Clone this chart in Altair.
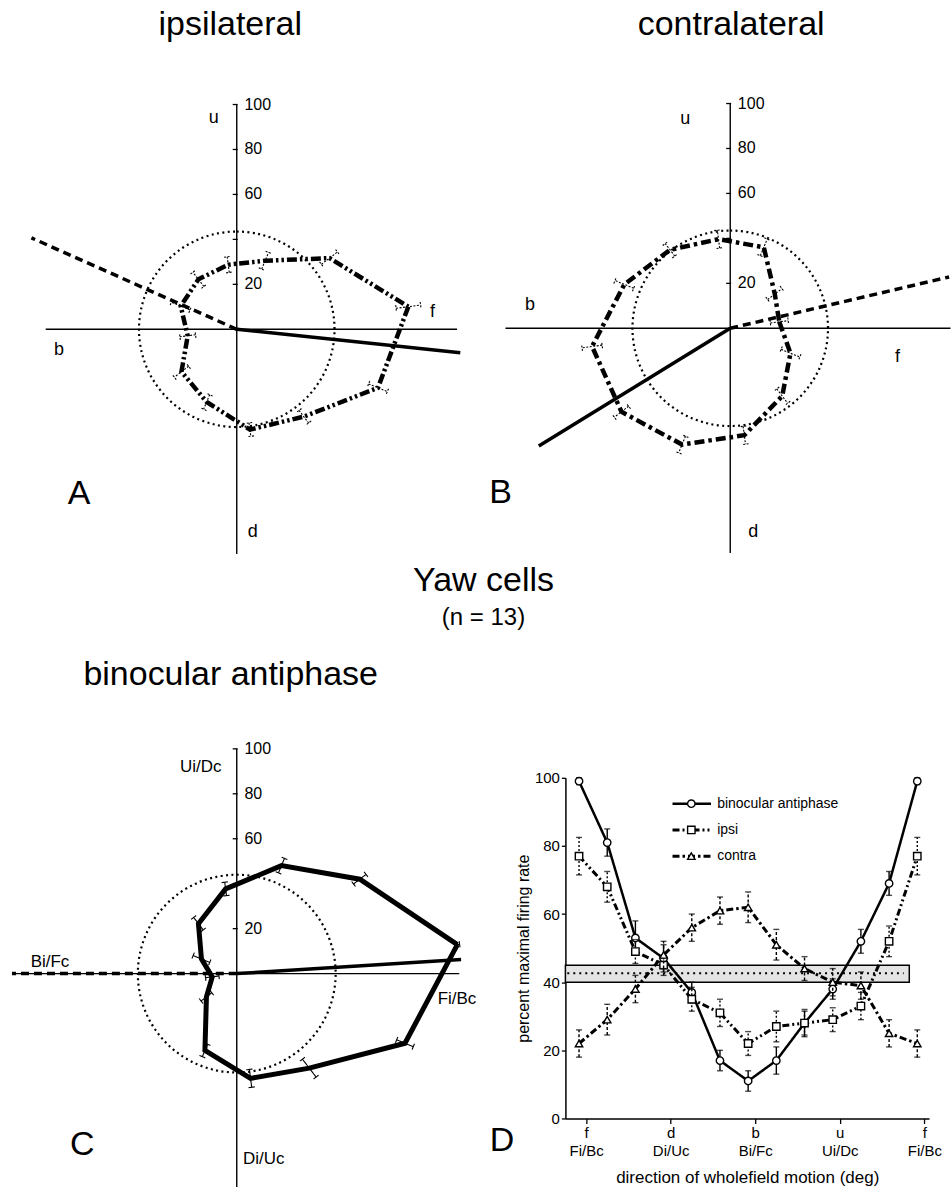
import json
import numpy as np
import pandas as pd
import altair as alt

FONT = "Liberation Sans"

# ---------------------------------------------------------------------------
# Data: responses of yaw cells to 12 directions of wholefield motion (n = 13)
# direction in deg, measured clockwise from f (f -> d -> b -> u -> f)
direction_deg = [-7.5, 22.5, 52.5, 82.5, 112.5, 142.5, 172.5,
                 202.5, 232.5, 262.5, 292.5, 322.5, 352.5]

binocular = [99, 81, 53, 47, 37, 17, 11, 17, 28, 38, 52, 69, 99]
binocular_err = [1, 4, 5, 4, 3, 3, 3, 4, 3.5, 3, 3.5, 3.5, 1]
ipsi = [77, 68, 49, 45, 35, 31, 22, 27, 28, 29, 33, 52, 77]
ipsi_err = [5.5, 4.5, 3.5, 3, 3.5, 4, 3.5, 4.5, 4, 3.5, 4, 4.5, 5.5]
contra = [22, 29, 38, 48, 56, 61, 62, 51, 44, 40, 39, 25, 22]
contra_err = [4, 4.5, 4, 4, 4, 4, 4.5, 4.5, 3.5, 4, 4, 4, 4]

# mean-rate circles of the polar plots
circle_ipsi, circle_contra, circle_bino = 43.5, 43.5, 44
# vector directions (deg, counter-clockwise from f): solid, dashed
vectors_ipsi = [-6, 156]
vectors_contra = [211.6, 13.2]
vectors_bino = [3.6, 180]
vector_length = 100

# spontaneous-rate band in panel D
band_low, band_high, band_mean = 40, 45, 42.6
band_from, band_to = -22, 344

# polar axis ticks
polar_ticks = [20, 40, 60, 80, 100]
polar_tick_labels = [20, 60, 80, 100]

# panel D axis ticks
dir_ticks = [0, 90, 180, 270, 360]
dir_top = ["f", "d", "b", "u", "f"]
dir_bottom = ["Fi/Bc", "Di/Uc", "Bi/Fc", "Ui/Dc", "Fi/Bc"]
rate_ticks = list(range(0, 101, 10))

# ---------------------------------------------------------------------------
PX = 2.25  # pixels per percent in the polar plots
polar_theta = np.deg2rad(-np.array(direction_deg))


def polar_panel(rate, err, outline, circle_r, vec, width, height, cx, cy,
                hspan, texts, bar_dash):
    xs = alt.Scale(domain=[-cx / PX, (width - cx) / PX], nice=False, zero=False)
    ys = alt.Scale(domain=[-(height - cy) / PX, cy / PX], nice=False, zero=False)

    def X(f):
        return alt.X(f"{f}:Q", scale=xs, axis=None)

    def Y(f):
        return alt.Y(f"{f}:Q", scale=ys, axis=None)

    r = np.array(rate, dtype=float)
    e = np.array(err, dtype=float)
    c, s = np.cos(polar_theta), np.sin(polar_theta)

    outline_df = pd.DataFrame({"i": range(len(r)), "x": r * c, "y": r * s})

    # radial error bars with small tangential caps
    cap = 1.4
    segs = []
    for k in range(len(r) - 1):
        lo, hi = r[k] - e[k], r[k] + e[k]
        segs.append((lo * c[k], lo * s[k], hi * c[k], hi * s[k]))
        for rr in (lo, hi):
            px_, py_ = rr * c[k], rr * s[k]
            segs.append((px_ - cap * s[k], py_ + cap * c[k],
                         px_ + cap * s[k], py_ - cap * c[k]))
    err_df = pd.DataFrame(segs, columns=["x", "y", "x2", "y2"])

    axes_df = pd.DataFrame({"x": [hspan[0], 0], "y": [0, -100],
                            "x2": [hspan[1], 0], "y2": [0, 100]})
    ticks_df = pd.DataFrame({"y": polar_ticks})
    ticks_df["x"] = -1.8
    ticks_df["x2"] = 0.4
    tlab_df = pd.DataFrame({"y": polar_tick_labels,
                            "t": [str(v) for v in polar_tick_labels]})
    tlab_df["x"] = 3.4

    ang = np.deg2rad(np.array(vec, dtype=float))
    vec_df = pd.DataFrame({"kind": ["solid", "dashed"], "x": [0, 0], "y": [0, 0],
                           "x2": vector_length * np.cos(ang),
                           "y2": vector_length * np.sin(ang)})

    circle_df = pd.DataFrame({"x": [0], "y": [0], "r": [circle_r]})
    text_df = pd.DataFrame(texts, columns=["t", "x", "y", "size"])

    axes = alt.Chart(axes_df).mark_rule(color="black", strokeWidth=1.4).encode(
        X("x"), Y("y"), x2="x2:Q", y2="y2:Q")
    ticks = alt.Chart(ticks_df).mark_rule(color="black", strokeWidth=1.3).encode(
        X("x"), Y("y"), x2="x2:Q")
    tick_labels = alt.Chart(tlab_df).mark_text(
        align="left", baseline="middle", fontSize=16, color="black").encode(
        X("x"), Y("y"), text="t:N")
    circle = alt.Chart(circle_df).mark_arc(
        theta=0, theta2=6.2832, fillOpacity=0, stroke="black",
        strokeWidth=2.2, strokeDash=[2, 3.4]).encode(
        X("x"), Y("y"),
        radius=alt.Radius("r:Q", scale=alt.Scale(type="linear", domain=[0, 100],
                                                 range=[0, 100 * PX])))
    vec_solid = alt.Chart(vec_df).transform_filter("datum.kind == 'solid'").mark_rule(
        color="black", strokeWidth=3.5).encode(X("x"), Y("y"), x2="x2:Q", y2="y2:Q")
    vec_dashed = alt.Chart(vec_df).transform_filter("datum.kind == 'dashed'").mark_rule(
        color="black", strokeWidth=3.5, strokeDash=[8, 5]).encode(
        X("x"), Y("y"), x2="x2:Q", y2="y2:Q")
    bars = alt.Chart(err_df).mark_rule(color="black", strokeWidth=1.1,
                                       strokeDash=bar_dash).encode(
        X("x"), Y("y"), x2="x2:Q", y2="y2:Q")
    poly = alt.Chart(outline_df).mark_line(color="black", strokeCap="butt",
                                           **outline).encode(
        X("x"), Y("y"), order="i:Q")
    labels = alt.Chart(text_df).mark_text(
        align="center", baseline="alphabetic", color="black").encode(
        X("x"), Y("y"), text="t:N", size=alt.Size("size:Q", scale=None))

    return alt.layer(axes, ticks, tick_labels, circle, vec_solid, vec_dashed,
                     bars, poly, labels).properties(width=width, height=height)


panel_a = polar_panel(
    ipsi, ipsi_err, {"strokeWidth": 4.5, "strokeDash": [10, 3, 2.5, 3, 2.5, 3]},
    circle_ipsi, vectors_ipsi, 476, 556, 237, 329, (-85, 98),
    [("ipsilateral", -2.9, 131.1, 34), ("u", -10.2, 92, 18), ("f", 87.1, 5.3, 18),
     ("b", -79.1, -11.6, 18), ("d", 7.1, -92.4, 18), ("A", -70.2, -77.8, 34)],
    [2, 1.5])

panel_b = polar_panel(
    contra, contra_err, {"strokeWidth": 4.5, "strokeDash": [10, 4, 3.5, 4]},
    circle_contra, vectors_contra, 476, 556, 255, 328, (-100, 98),
    [("contralateral", 0.4, 130.7, 34), ("u", -20, 91.1, 18), ("f", 74.4, -15.1, 18),
     ("b", -89.1, 8.0, 18), ("d", 10.2, -92.9, 18), ("B", -102.2, -77.8, 34)],
    [2, 1.5])

panel_c = polar_panel(
    binocular, binocular_err, {"strokeWidth": 5},
    circle_bino, vectors_bino, 514, 547, 237, 332, (-100, 99),
    [("binocular antiphase", -2.7, 128.4, 34), ("Ui/Dc", -16, 89.8, 17),
     ("Bi/Fc", -83.1, 3.1, 17), ("Fi/Bc", 98, -13.3, 17), ("Di/Uc", 12, -84.9, 17),
     ("C", -68.7, -80.9, 34), ("D", 118, -79.1, 34)],
    [1, 0])

# ---------------------------------------------------------------------------
# Panel D: tuning curves
series = {
    "binocular antiphase": dict(v=binocular, e=binocular_err, dash=[1, 0], w=2.5,
                                shape="circle", bar=[1, 0]),
    "ipsi": dict(v=ipsi, e=ipsi_err, dash=[7, 3, 2, 3, 2, 3], w=3,
                 shape="square", bar=[2, 2]),
    "contra": dict(v=contra, e=contra_err, dash=[7, 3, 2.5, 3], w=3,
                   shape="triangle-up", bar=[3, 2]),
}

xsd = alt.Scale(domain=[-22, 365], nice=False, zero=False)
ysd = alt.Scale(domain=[0, 100], nice=False, zero=False)

label_expr = (json.dumps([[a, b] for a, b in zip(dir_top, dir_bottom)]).replace('"', "'")
              + f"[indexof({json.dumps(dir_ticks)}, datum.value)]")

x_axis = alt.Axis(values=dir_ticks, labelExpr=label_expr, grid=False,
                  tickSize=5, tickColor="black", tickWidth=1.3,
                  domainColor="black", domainWidth=1.5,
                  labelFontSize=15, labelColor="black", labelLineHeight=18,
                  labelPadding=2, labelFlush=False,
                  title="direction of wholefield motion (deg)", titleFontSize=17,
                  titleFontWeight="normal", titleColor="black", titlePadding=11)
y_axis = alt.Axis(values=rate_ticks, labelExpr="datum.value % 20 == 0 ? datum.label : ''",
                  grid=False, tickSize=4, tickColor="black", tickWidth=1.3,
                  domainColor="black", domainWidth=1.5,
                  labelFontSize=15, labelColor="black", labelPadding=2,
                  title="percent maximal firing rate", titleFontSize=16,
                  titleFontWeight="normal", titleColor="black", titlePadding=3)

band = alt.Chart(pd.DataFrame({"x": [band_from], "x2": [band_to],
                               "y": [band_low], "y2": [band_high]})).mark_rect(
    fill="#e4e4e4", stroke="black", strokeWidth=1.5).encode(
    x=alt.X("x:Q", scale=xsd, axis=x_axis), x2="x2:Q",
    y=alt.Y("y:Q", scale=ysd, axis=y_axis), y2="y2:Q")
band_line = alt.Chart(pd.DataFrame({"x": [band_from + 2], "x2": [band_to - 6],
                                    "y": [band_mean]})).mark_rule(
    color="black", strokeWidth=2, strokeDash=[2, 4]).encode(
    x=alt.X("x:Q", scale=xsd), x2="x2:Q", y=alt.Y("y:Q", scale=ysd))

layers_d = [band, band_line]
legend_rows = list(series.keys())
for name, st in series.items():
    df = pd.DataFrame({"dir": direction_deg, "v": st["v"], "e": st["e"]})
    df["lo"] = df["v"] - df["e"]
    df["hi"] = df["v"] + df["e"]
    base = alt.Chart(df)
    layers_d.append(base.mark_line(color="black", strokeWidth=st["w"],
                                   strokeDash=st["dash"], strokeCap="butt").encode(
        x=alt.X("dir:Q", scale=xsd), y=alt.Y("v:Q", scale=ysd)))
    layers_d.append(base.mark_rule(color="black", strokeWidth=1.4,
                                   strokeDash=st["bar"]).encode(
        x=alt.X("dir:Q", scale=xsd), y=alt.Y("lo:Q", scale=ysd), y2="hi:Q"))
    for end in ("lo", "hi"):
        layers_d.append(base.mark_tick(orient="horizontal", size=6, thickness=1.4,
                                       color="black").encode(
            x=alt.X("dir:Q", scale=xsd), y=alt.Y(f"{end}:Q", scale=ysd)))
    layers_d.append(base.mark_point(shape=st["shape"], filled=True, fill="white",
                                    stroke="black", strokeWidth=1.4, size=55,
                                    opacity=1).encode(
        x=alt.X("dir:Q", scale=xsd), y=alt.Y("v:Q", scale=ysd)))

    # legend entry
    row = legend_rows.index(name)
    leg = alt.Chart(pd.DataFrame({"name": [name], "row": [row]})).transform_calculate(
        y="92.4 - 7.7 * datum.row", x1="92", x2="133", xm="112", xt="139.5")
    layers_d.append(leg.mark_rule(color="black", strokeWidth=st["w"],
                                  strokeDash=st["dash"]).encode(
        x=alt.X("x1:Q", scale=xsd), x2="x2:Q", y=alt.Y("y:Q", scale=ysd)))
    layers_d.append(leg.mark_point(shape=st["shape"], filled=True, fill="white",
                                   stroke="black", strokeWidth=1.4, size=55,
                                   opacity=1).encode(
        x=alt.X("xm:Q", scale=xsd), y=alt.Y("y:Q", scale=ysd)))
    layers_d.append(leg.mark_text(align="left", baseline="middle", fontSize=14,
                                  color="black").encode(
        x=alt.X("xt:Q", scale=xsd), y=alt.Y("y:Q", scale=ysd), text="name:N"))

panel_d = alt.layer(*layers_d).properties(width=364, height=341)

# ---------------------------------------------------------------------------
one = pd.DataFrame({"k": [0]})
heading = alt.layer(
    alt.Chart(one).mark_text(text="Yaw cells", fontSize=34, align="center",
                             baseline="alphabetic", color="black").encode(
        x=alt.value(484), y=alt.value(35)),
    alt.Chart(one).mark_text(text="(n = 13)", fontSize=24, align="center",
                             baseline="alphabetic", color="black").encode(
        x=alt.value(484), y=alt.value(69)),
).properties(width=952, height=80)

spacer = alt.Chart(one).mark_text(text=" ").encode(
    x=alt.value(0), y=alt.value(0)).properties(width=300, height=129)

chart = alt.vconcat(
    alt.hconcat(panel_a, panel_b, spacing=0),
    heading,
    alt.hconcat(panel_c, alt.vconcat(spacer, panel_d, spacing=0), spacing=0),
    spacing=0,
).properties(padding=0, background="white").configure(font=FONT).configure_view(
    stroke="transparent", strokeWidth=0)

chart.save("out.html", embed_options={"renderer": "svg", "actions": False})
